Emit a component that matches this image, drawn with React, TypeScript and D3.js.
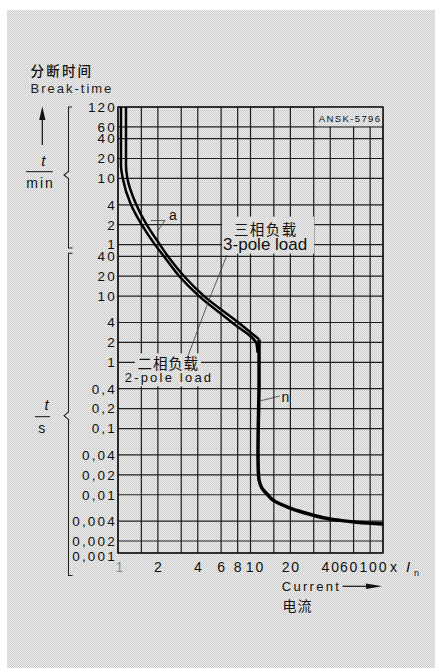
import React from 'react';
import * as d3 from 'd3';

// ---- data ----
const currentGrid = [1, 1.5, 2, 3, 4, 6, 8, 10, 15, 20, 30, 40, 60, 80, 100];
const currentTicks = [1, 2, 4, 6, 8, 10, 20, 40, 60, 100];
const currentTickLabels = ['1', '2', '4', '6', '8', '10', '20', '40', '60', '100'];
const minuteTicks = [120, 60, 40, 20, 10, 4, 2, 1];
const minuteTickLabels = ['120', '60', '40', '20', '10', '4', '2', '1'];
const secondTicks = [40, 20, 10, 4, 2, 1, 0.4, 0.2, 0.1, 0.04, 0.02, 0.01, 0.004, 0.002, 0.001];
const secondTickLabels = ['40', '20', '10', '4', '2', '1', '0,4', '0,2', '0,1', '0,04', '0,02', '0,01', '0,004', '0,002', '0,001'];

// thermal trip curves (current in multiples of In, time in seconds)
const threePoleCurrent = [1.053, 1.053, 1.085, 1.247, 1.51, 1.9, 2.22, 2.9, 4.09, 7.25, 11.1, 11.3];
const threePoleTime = [7200, 957, 609, 247, 120, 60, 40, 20, 10, 4, 1.9, 1.4];
const twoPoleCurrent = [1.149, 1.149, 1.175, 1.367, 1.646, 2.07, 2.38, 3.15, 4.46, 8.1, 11.6];
const twoPoleTime = [7200, 957, 609, 247, 120, 60, 40, 20, 10, 4, 2.22];
// instantaneous (magnetic) part
const instCurrent = [11.6, 11.6, 11.6, 12.2, 13.3, 14.8, 19.9, 26.7, 35.3, 47.2, 63.6, 100];
const instTime = [2.22, 0.5, 0.0167, 0.0126, 0.0103, 0.0083, 0.0063, 0.0052, 0.0045, 0.0041, 0.00383, 0.0036];

// annotation anchors (current, seconds)
const threePoleLabelAt = [12.9, 60];
const twoPoleLabelAt = [2.38, 1];
const poleLeaderCross = [4.86, 8.74];
const threePoleLeaderStart = [6.65, 41.8];
const twoPoleLeaderStart = [3.32, 1.15];
const aLeaderApex = [2.26, 138.7];
const aLeaderEnds = [[1.77, 138.7], [1.97, 93]];
const nLeader = [[11.95, 0.263], [16.7, 0.31]];

const FONT = '"Liberation Sans", Arial, Helvetica, sans-serif';
const CJK = '"Noto Sans CJK SC", "Noto Sans", sans-serif';

export default function App() {
  const W = 435, H = 668;
  const x = d3.scaleLog().domain([1, 100]).range([118, 383]);
  const y = d3.scaleLog().domain([0.001, 0.002, 7200]).range([553, 541, 107]);

  const [x0, x1] = x.range();
  const yTop = y(7200), yBot = y(0.001);

  const lineMono = d3.line<[number, number]>()
    .x(d => x(d[0])).y(d => y(d[1])).curve(d3.curveMonotoneY);
  const lineCat = d3.line<[number, number]>()
    .x(d => x(d[0])).y(d => y(d[1])).curve(d3.curveCatmullRom.alpha(0.5));

  const threePole = threePoleCurrent.map((c, i) => [c, threePoleTime[i]] as [number, number]);
  const twoPole = twoPoleCurrent.map((c, i) => [c, twoPoleTime[i]] as [number, number]);
  const inst = instCurrent.map((c, i) => [c, instTime[i]] as [number, number]);

  const hLines = [...minuteTicks.map(m => m * 60), ...secondTicks];

  const gridColor = '#1e1e1e';
  const bg = 'url(#dither)';

  const tpx = x(threePoleLabelAt[0]), tpy = y(threePoleLabelAt[1]);
  const wpx = x(twoPoleLabelAt[0]), wpy = y(twoPoleLabelAt[1]);

  const xOffsets: Record<number, number> = { 1: 1.5, 10: 4, 60: -5, 100: -10 };

  return (
    <svg width={W} height={H} style={{ position: 'absolute', left: 0, top: 0, background: '#fff' }}>
      <defs>
        <pattern id="dither" width="2" height="2" patternUnits="userSpaceOnUse">
          <rect width="2" height="2" fill="#eeeeee" />
          <rect width="1" height="1" fill="#c9c9c9" />
          <rect x="1" y="1" width="1" height="1" fill="#cfcfcf" />
        </pattern>
      </defs>
      <rect x={7} y={10} width={W - 7} height={H - 10} fill={bg} />

      {/* grid */}
      {currentGrid.map(v => (
        <line key={'v' + v} x1={x(v)} x2={x(v)} y1={yTop} y2={yBot} stroke={gridColor} strokeWidth={1.2} />
      ))}
      {hLines.map(v => (
        <line key={'h' + v} x1={x0} x2={x1} y1={y(v)} y2={y(v)} stroke={gridColor} strokeWidth={1.2} />
      ))}
      <rect x={x0} y={yTop} width={x1 - x0} height={yBot - yTop} fill="none" stroke="#111" strokeWidth={1.4} />

      {/* masks behind labels */}
      <rect x={316.7} y={yTop + 0.9} width={x1 - 316.7 - 0.9} height={y(3600) - yTop - 1.6} fill={bg} />
      <rect x={tpx - 43} y={tpy - 28} width={92} height={37} fill={bg} />
      <rect x={wpx - 33} y={wpy - 9} width={66} height={16} fill={bg} />
      <rect x={wpx - 45} y={wpy + 7} width={91} height={17} fill={bg} />

      {/* curves */}
      <path d={lineMono(twoPole) || ''} fill="none" stroke="#000" strokeWidth={2.5} strokeLinejoin="miter" />
      <path d={lineMono(threePole) || ''} fill="none" stroke="#000" strokeWidth={2.5} />
      <path d={lineCat(inst) || ''} fill="none" stroke="#000" strokeWidth={3.5} />

      {/* leaders */}
      <g stroke="#3a3a3a" strokeWidth={0.8} fill="none">
        <line x1={x(threePoleLeaderStart[0])} y1={y(threePoleLeaderStart[1])} x2={x(poleLeaderCross[0])} y2={y(poleLeaderCross[1])} />
        <line x1={x(twoPoleLeaderStart[0])} y1={y(twoPoleLeaderStart[1])} x2={x(poleLeaderCross[0])} y2={y(poleLeaderCross[1])} />
        {aLeaderEnds.map((e, i) => (
          <line key={i} x1={x(aLeaderApex[0])} y1={y(aLeaderApex[1])} x2={x(e[0])} y2={y(e[1])} />
        ))}
        <line x1={x(nLeader[0][0])} y1={y(nLeader[0][1])} x2={x(nLeader[1][0])} y2={y(nLeader[1][1])} />
      </g>
      <text x={x(aLeaderApex[0]) + 4} y={y(aLeaderApex[1]) - 1} fontFamily={FONT} fontSize={14} fill="#111">a</text>
      <text x={x(nLeader[1][0]) + 1.5} y={y(nLeader[1][1]) + 5.7} fontFamily={FONT} fontSize={14} fill="#111">n</text>

      {/* curve labels */}
      <text x={tpx + 0.6} y={tpy - 16.5} textAnchor="middle" dominantBaseline="central" fontFamily={CJK} fontSize={14.5} letterSpacing={1.4} fill="#111">三相负载</text>
      <text x={tpx} y={tpy + 0.3} textAnchor="middle" dominantBaseline="central" fontFamily={FONT} fontSize={17} fill="#111">3-pole load</text>
      <text x={wpx + 0.3} y={wpy} textAnchor="middle" dominantBaseline="central" fontFamily={CJK} fontSize={14.5} letterSpacing={0.8} fill="#111">二相负载</text>
      <text x={wpx + 1.1} y={wpy + 14.7} textAnchor="middle" dominantBaseline="central" fontFamily={FONT} fontSize={13} letterSpacing={2.2} fill="#111">2-pole load</text>

      <text x={381.5} y={yTop + 11.3} textAnchor="end" dominantBaseline="central" fontFamily={FONT} fontSize={9.5} letterSpacing={1.4} fill="#111">ANSK-5796</text>

      {/* y tick labels */}
      {minuteTicks.map((v, i) => (
        <text key={'m' + v} x={117} y={y(v * 60)} dy="0.36em" textAnchor="end" fontFamily={FONT} fontSize={13.5} letterSpacing={2.2} fill="#111">{minuteTickLabels[i]}</text>
      ))}
      {secondTicks.map((v, i) => (
        <text key={'s' + v} x={117} y={y(v)} dy={v === 0.001 ? '0.62em' : '0.36em'} textAnchor="end" fontFamily={FONT} fontSize={13.5} letterSpacing={2.2} fill="#111">{secondTickLabels[i]}</text>
      ))}

      {/* x tick labels */}
      {currentTicks.map((v, i) => (
        <text key={'x' + v} x={x(v) + (xOffsets[v] || 0) + 0.9} y={571.5} textAnchor="middle" fontFamily={FONT} fontSize={14} letterSpacing={1.8} fill={v === 1 ? '#8a8a8a' : '#111'}>{currentTickLabels[i]}</text>
      ))}
      <text x={x(100) + 7} y={571.5} fontFamily={FONT} fontSize={14} fill="#111">x</text>
      <text x={x(100) + 23} y={571.5} fontFamily={FONT} fontSize={15} fontStyle="italic" fill="#111">I</text>
      <text x={x(100) + 31} y={576} fontFamily={FONT} fontSize={9} fill="#111">n</text>

      {/* x axis title */}
      <text x={281.7} y={591} fontFamily={FONT} fontSize={13} letterSpacing={2.3} fill="#111">Current</text>
      <line x1={342.7} x2={370} y1={586.3} y2={586.3} stroke="#111" strokeWidth={1.2} />
      <path d="M382,586.3 L366,583.6 L366,589 Z" fill="#111" />
      <text x={282.5} y={605} dominantBaseline="central" fontFamily={CJK} fontSize={14} letterSpacing={1} fill="#111">电流</text>

      {/* y axis title */}
      <text x={30.5} y={70} dominantBaseline="central" fontFamily={CJK} fontSize={13.5} fontWeight={500} letterSpacing={2.2} fill="#111">分断时间</text>
      <text x={30.5} y={92.7} fontFamily={FONT} fontSize={13} letterSpacing={2} fill="#222">Break-time</text>
      <line x1={42.3} x2={42.3} y1={117} y2={145} stroke="#111" strokeWidth={1.2} />
      <path d="M42.3,106.5 L39.2,120 L45.4,120 Z" fill="#111" />

      {/* unit fractions */}
      <text x={43.3} y={166} textAnchor="middle" fontFamily={FONT} fontSize={15} fontStyle="italic" fill="#111">t</text>
      <line x1={26} x2={52.7} y1={171.7} y2={171.7} stroke="#111" strokeWidth={1} />
      <text x={40.5} y={187.7} textAnchor="middle" fontFamily={FONT} fontSize={14} letterSpacing={2} fill="#111">min</text>

      <text x={46.5} y={410} textAnchor="middle" fontFamily={FONT} fontSize={15} fontStyle="italic" fill="#111">t</text>
      <line x1={35} x2={50} y1={416.7} y2={416.7} stroke="#111" strokeWidth={1} />
      <text x={41.7} y={433.3} textAnchor="middle" fontFamily={FONT} fontSize={14} fill="#111">s</text>

      {/* braces */}
      <path d="M72,107 H68.5 V171.5 L64,175 L68.5,178.5 V248 H72.5" fill="none" stroke="#222" strokeWidth={1.1} />
      <path d="M72.5,253.3 H68.5 V412 L64,415.7 L68.5,419.4 V575.5 H72.5" fill="none" stroke="#222" strokeWidth={1.1} />
    </svg>
  );
}
